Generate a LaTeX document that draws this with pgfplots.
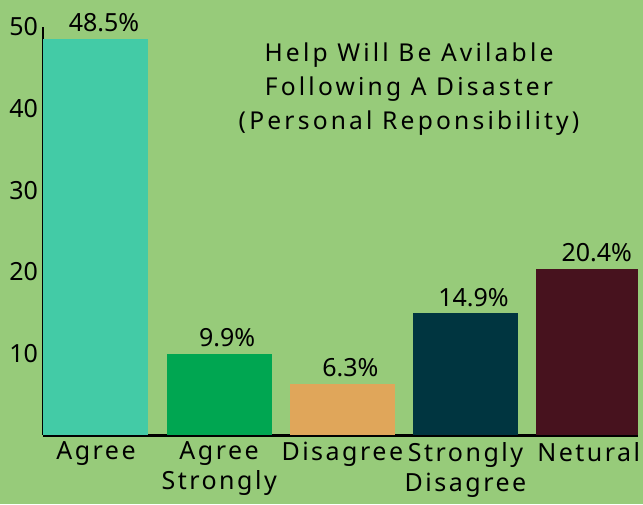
\documentclass[border=0pt]{standalone}
\usepackage{fontspec}
\setmainfont{Noto Sans}
\newfontfamily\spaced[LetterSpace=10]{Noto Sans}
\newfontfamily\tspaced[LetterSpace=13]{Noto Sans}
\usepackage{pgfplots}
\pgfplotsset{compat=1.18}
\definecolor{bg}{HTML}{97CB7A}
\definecolor{cA}{HTML}{43CBA6}
\definecolor{cB}{HTML}{00A651}
\definecolor{cC}{HTML}{E0A65A}
\definecolor{cD}{HTML}{003540}
\definecolor{cE}{HTML}{47121E}
\begin{document}
\begin{tikzpicture}
\path[use as bounding box, fill=bg] (-21.5pt,-34.5pt) rectangle (300pt,217.5pt);
\begin{axis}[
  at={(0pt,0pt)}, anchor=south west,
  scale only axis, width=297.5pt, height=204pt,
  ymin=0, ymax=50, xmin=-0.43, xmax=4.40,
  axis x line=bottom, axis y line=left,
  x axis line style={-, line width=1.5pt},
  y axis line style={-, line width=1pt},
  ytick={10,20,30,40,50},
  xtick={0,1,2,3,4},
  xticklabels={Agree, Agree\\Strongly, Disagree, Strongly\\Disagree, Netural},
  xticklabel style={align=center, font=\spaced\fontsize{12.5}{15}\selectfont},
  yticklabel style={font=\fontsize{12.5}{14}\selectfont, xshift=1pt},
  /pgf/number format/assume math mode=true,
  major tick length=0pt,
  ybar, bar width=52.5pt, bar shift=0pt,
  nodes near coords={\pgfmathprintnumber[fixed,precision=1,fixed zerofill]{\pgfplotspointmeta}\%},
  every node near coord/.append style={font=\fontsize{12.5}{14}\selectfont, black, xshift=4pt, /pgf/number format/assume math mode=true},
]
\addplot[fill=cA, draw=none] coordinates {(0,48.5)};
\addplot[fill=cB, draw=none] coordinates {(1,9.9)};
\addplot[fill=cC, draw=none] coordinates {(2,6.3)};
\addplot[fill=cD, draw=none] coordinates {(3,14.9)};
\addplot[fill=cE, draw=none] coordinates {(4,20.4)};
\end{axis}
\node[align=center, font=\tspaced\fontsize{12.3}{17}\selectfont] at (183pt,173pt)
  {Help Will Be Avilable\\Following A Disaster\\(Personal Reponsibility)};
\end{tikzpicture}
\end{document}
